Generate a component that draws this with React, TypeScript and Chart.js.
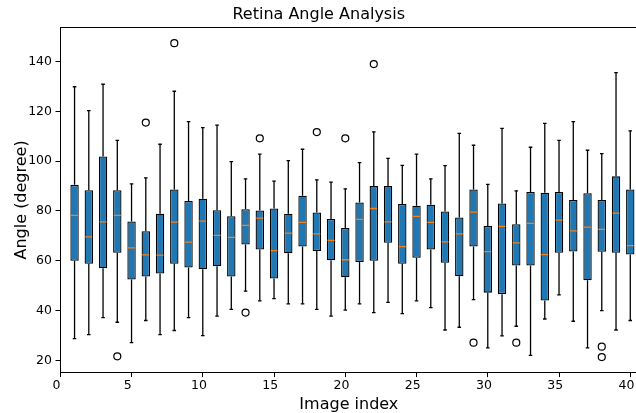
import React, { useEffect, useRef } from "react";
import { Chart, registerables } from "chart.js";

Chart.register(...registerables);

const categories = Array.from({ length: 40 }, (_, i) => i + 1);
const whiskerLow = [28.7, 30.3, 37.2, 35.3, 27.1, 36, 30.3, 32, 37.2, 29.9, 37.8, 40.5, 47.8, 43.9, 44.8, 42.7, 42.7, 40.5, 37.8, 40.2, 42.7, 39.2, 43.3, 38.8, 43.9, 41.2, 32.2, 33.3, 44.4, 25, 29.8, 33.7, 22, 36.6, 46.3, 35.7, 25, 40, 32.2, 36];
const q1 = [60, 58.8, 57, 63.2, 52.5, 53.7, 54.9, 58.8, 57.3, 56.6, 57.8, 53.7, 66.5, 64.5, 52.9, 63, 65.7, 63.9, 60.2, 53.4, 59.5, 60, 67.2, 58.8, 61.2, 64.5, 59.2, 53.8, 65.7, 47.2, 46.6, 58.1, 58.1, 44, 63.2, 63.7, 52.2, 63.6, 63.2, 62.5];
const median = [78.2, 69.6, 75.6, 78.2, 65.2, 62.4, 62.3, 75.5, 67.5, 75.9, 70.2, 69.4, 74.2, 77.1, 64.1, 71.1, 75.4, 70.8, 68.2, 60.4, 76.6, 81, 75.6, 65.7, 77.8, 75.4, 67.6, 70.8, 79.5, 63.7, 73.8, 67.2, 75, 62.5, 76.3, 72, 73.5, 72.6, 79.1, 66.1];
const q3 = [90.5, 88.3, 101.9, 88.3, 75.8, 71.9, 78.9, 88.6, 84, 84.9, 80.3, 77.9, 80.7, 80.2, 81, 78.9, 86.1, 79.4, 76.8, 73.2, 83.4, 90, 90, 82.8, 82.1, 82.5, 79.8, 77.4, 88.6, 74, 83, 74.7, 87.6, 87.3, 87.6, 84.4, 87.1, 84.4, 93.9, 88.6];
const whiskerHigh = [129.9, 120.3, 130.9, 108.4, 90.9, 93.3, 106.8, 128.1, 115.9, 113.5, 114.5, 99.8, 92.9, 102.8, 92, 100.2, 104.8, 92.5, 91.6, 88.9, 99.4, 111.8, 101.1, 98.3, 102.8, 92.9, 98.2, 111.2, 106.4, 90.7, 113.2, 88.1, 105.6, 115.2, 108.4, 115.9, 104.4, 103, 135.6, 112.2];
const flierX = [4, 6, 8, 13, 14, 18, 20, 22, 29, 32, 38, 38];
const flierY = [21.6, 115.5, 147.4, 39.2, 109.2, 111.7, 109.2, 139, 27.1, 27.1, 25.5, 21.3];
const xTicks = [0, 5, 10, 15, 20, 25, 30, 35, 40];
const yTicks = [20, 40, 60, 80, 100, 120, 140];

const BOX_HALF = 0.25;
const CAP_HALF = 0.125;

export default function App() {
  const ref = useRef<HTMLCanvasElement>(null);
  useEffect(() => {
    if (!ref.current) return;
    Chart.defaults.font.family = "'DejaVu Sans', sans-serif";
    Chart.defaults.color = "#000";

    const boxData = categories.map((c, i) => ({ x: c, y: [q1[i], q3[i]] }));
    const whiskerData: any[] = [];
    const capData: any[] = [];
    const medianData: any[] = [];
    categories.forEach((c, i) => {
      whiskerData.push({ x: c, y: q3[i] }, { x: c, y: whiskerHigh[i] }, { x: c, y: null });
      whiskerData.push({ x: c, y: q1[i] }, { x: c, y: whiskerLow[i] }, { x: c, y: null });
      capData.push({ x: c - CAP_HALF, y: whiskerHigh[i] }, { x: c + CAP_HALF, y: whiskerHigh[i] }, { x: c, y: null });
      capData.push({ x: c - CAP_HALF, y: whiskerLow[i] }, { x: c + CAP_HALF, y: whiskerLow[i] }, { x: c, y: null });
      medianData.push({ x: c - BOX_HALF, y: median[i] }, { x: c + BOX_HALF, y: median[i] }, { x: c, y: null });
    });
    const fliers = flierX.map((x, i) => ({ x, y: flierY[i] }));

    const lineCommon = {
      type: "line" as const,
      pointRadius: 0,
      pointHoverRadius: 0,
      tension: 0,
      spanGaps: false,
      fill: false,
    };

    const chart = new Chart(ref.current, {
      type: "bar",
      data: {
        datasets: [
          {
            ...lineCommon,
            label: "medians",
            data: medianData,
            borderColor: "#ff7f0e",
            borderWidth: 1.3,
            order: 0,
          } as any,
          {
            ...lineCommon,
            label: "whiskers",
            data: whiskerData,
            borderColor: "#000",
            borderWidth: 1.3,
            order: 1,
          } as any,
          {
            ...lineCommon,
            label: "caps",
            data: capData,
            borderColor: "#000",
            borderWidth: 1.3,
            order: 1,
          } as any,
          {
            type: "scatter",
            label: "fliers",
            data: fliers,
            pointStyle: "circle",
            pointRadius: 3.5,
            pointBorderWidth: 1.2,
            borderColor: "#000",
            backgroundColor: "rgba(0,0,0,0)",
            showLine: false,
            order: 1,
          } as any,
          {
            type: "bar",
            label: "boxes",
            data: boxData as any,
            backgroundColor: "#1f77b4",
            borderColor: "#000",
            borderWidth: 1.3,
            borderSkipped: false,
            barPercentage: 0.59,
            categoryPercentage: 1,
            order: 2,
          } as any,
        ],
      },
      options: {
        animation: false,
        responsive: false,
        devicePixelRatio: 1,
        events: [],
        layout: { padding: { left: 0, right: 22.6, top: 0, bottom: 0 } },
        plugins: {
          legend: { display: false },
          tooltip: { enabled: false },
          title: {
            display: true,
            text: "Retina Angle Analysis",
            font: { size: 16, weight: "normal" },
            color: "#000",
            padding: { top: 5, bottom: 3.3 },
          },
        },
        scales: {
          x: {
            type: "linear",
            position: "bottom",
            min: 0,
            max: 40.5,
            offset: false,
            afterBuildTicks: (s: any) => {
              s.ticks = xTicks.map((v) => ({ value: v }));
            },
            afterFit: (s: any) => {
              s.height = 40.7;
            },
            ticks: { font: { size: 12.5 }, color: "#000", padding: 1.5, maxRotation: 0, autoSkip: false, labelOffset: -3.8 },
            grid: { drawOnChartArea: false, drawTicks: true, tickLength: 4.8, color: "#000", lineWidth: 1, offset: false },
            border: { display: true, color: "#000", width: 1 },
            title: { display: true, text: "Image index", font: { size: 16 }, color: "#000", padding: { top: 0, bottom: -1.5 } },
          },
          x2: {
            type: "linear",
            position: "top",
            min: 0,
            max: 40.5,
            display: true,
            afterFit: (s: any) => {
              s.height = 0;
            },
            ticks: { display: false },
            grid: { drawOnChartArea: false, drawTicks: false },
            border: { display: true, color: "#000", width: 1 },
          },
          y: {
            type: "linear",
            position: "left",
            min: 15.2,
            max: 153.7,
            afterBuildTicks: (s: any) => {
              s.ticks = yTicks.map((v) => ({ value: v }));
            },
            afterFit: (s: any) => {
              s.width = 60.3;
            },
            ticks: { font: { size: 12.5 }, color: "#000", padding: 3.5 },
            grid: { drawOnChartArea: false, drawTicks: true, tickLength: 4.8, color: "#000", lineWidth: 1 },
            border: { display: true, color: "#000", width: 1 },
            title: { display: true, text: "Angle (degree)", font: { size: 16 }, color: "#000", padding: { top: 12.4, bottom: 0 } },
          },
        },
      } as any,
    });
    return () => chart.destroy();
  }, []);

  return (
    <div style={{ position: "fixed", left: 0, top: 0, width: 636, height: 413, overflow: "hidden", background: "#fff" }}>
      <canvas ref={ref} width={660} height={413} style={{ display: "block" }} />
    </div>
  );
}
